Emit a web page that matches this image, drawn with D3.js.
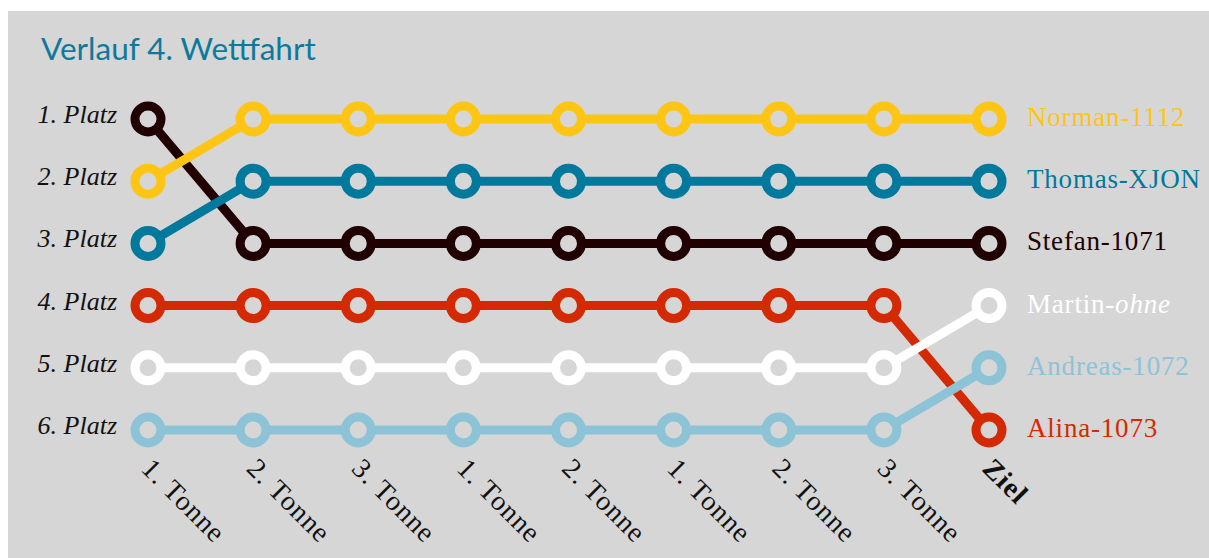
<!DOCTYPE html>
<html>
<head>
<meta charset="utf-8">
<script src="https://cdn.jsdelivr.net/npm/d3@7"></script>
<style>
  body { margin: 0; background: #fff; }
  svg { display: block; }
  .place { font-family: "Liberation Serif", serif; font-style: italic; font-size: 26px; fill: #111; }
  .stop { font-family: "Liberation Serif", serif; font-size: 28px; letter-spacing: 1px; fill: #111; }
  .name { font-family: "Liberation Serif", serif; font-size: 27px; letter-spacing: 0.8px; }
  .title { font-family: Lato, sans-serif; font-size: 31.5px; fill: #0d7a9b; }
</style>
</head>
<body>
<div id="chart"></div>
<script>
// checkpoints of the race (x axis)
const stops = ["1. Tonne", "2. Tonne", "3. Tonne", "1. Tonne", "2. Tonne", "1. Tonne", "2. Tonne", "3. Tonne", "Ziel"];
const places = ["1. Platz", "2. Platz", "3. Platz", "4. Platz", "5. Platz", "6. Platz"];

// rank of each boat at each checkpoint
const stefan  = [1, 3, 3, 3, 3, 3, 3, 3, 3];
const alina   = [4, 4, 4, 4, 4, 4, 4, 4, 6];
const norman  = [2, 1, 1, 1, 1, 1, 1, 1, 1];
const thomas  = [3, 2, 2, 2, 2, 2, 2, 2, 2];
const martin  = [5, 5, 5, 5, 5, 5, 5, 5, 4];
const andreas = [6, 6, 6, 6, 6, 6, 6, 6, 5];

const boats = [
  { name: "Stefan-1071", ranks: stefan, color: "#200000" },
  { name: "Alina-1073", ranks: alina, color: "#d42a04" },
  { name: "Norman-1112", ranks: norman, color: "#fec514" },
  { name: "Thomas-XJON", ranks: thomas, color: "#00799d" },
  { name: "Martin-", extra: "ohne", ranks: martin, color: "#ffffff" },
  { name: "Andreas-1072", ranks: andreas, color: "#8cc3d6" },
];

const width = 1209, height = 558;
const bg = "#d6d6d6";

const svg = d3.select("#chart").append("svg")
  .attr("width", width)
  .attr("height", height);

svg.append("rect")
  .attr("x", 8).attr("y", 11)
  .attr("width", width - 8).attr("height", height - 11)
  .attr("fill", bg);

svg.append("text")
  .attr("class", "title")
  .attr("x", 41).attr("y", 60)
  .text("Verlauf 4. Wettfahrt");

const x = d3.scalePoint()
  .domain(d3.range(stops.length))
  .range([148, 989]);

const y = d3.scaleLinear()
  .domain([1, 6])
  .range([119, 430]);

// place labels on the left
svg.selectAll(".place")
  .data(places)
  .enter()
  .append("text")
  .attr("class", "place")
  .attr("x", 117)
  .attr("y", (d, i) => y(i + 1) + 4)
  .attr("text-anchor", "end")
  .text(d => d);

// checkpoint labels, rotated
svg.selectAll(".stop")
  .data(stops)
  .enter()
  .append("text")
  .attr("class", "stop")
  .attr("transform", (d, i) => `translate(${x(i) - 1}, 463) rotate(45)`)
  .attr("dy", "0.35em")
  .style("font-weight", (d, i) => i === stops.length - 1 ? "bold" : "normal")
  .text(d => d);

const line = d3.line()
  .x((d, i) => x(i))
  .y(d => y(d));

boats.forEach(b => {
  const g = svg.append("g");
  g.append("path")
    .attr("d", line(b.ranks))
    .attr("fill", "none")
    .attr("stroke", b.color)
    .attr("stroke-width", 9);
  g.selectAll("circle")
    .data(b.ranks)
    .enter()
    .append("circle")
    .attr("cx", (d, i) => x(i))
    .attr("cy", d => y(d))
    .attr("r", 13)
    .attr("fill", bg)
    .attr("stroke", b.color)
    .attr("stroke-width", 9);
});

// boat names at the finish
boats.forEach(b => {
  const last = b.ranks[b.ranks.length - 1];
  const t = svg.append("text")
    .attr("class", "name")
    .attr("x", 1027)
    .attr("y", y(last) + 7)
    .attr("fill", b.color)
    .text(b.name);
  if (b.extra) {
    t.append("tspan").style("font-style", "italic").text(b.extra);
  }
});
</script>
</body>
</html>
